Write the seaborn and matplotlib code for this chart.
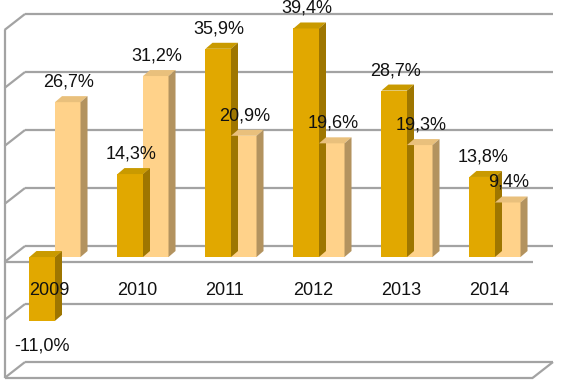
import matplotlib
matplotlib.use("Agg")
import matplotlib.pyplot as plt
import seaborn as sns
import pandas as pd
import numpy as np
from matplotlib.patches import Polygon
from matplotlib.lines import Line2D

# ---- data ----
years = ["2009", "2010", "2011", "2012", "2013", "2014"]
series_a = [-11.0, 14.3, 35.9, 39.4, 28.7, 13.8]
series_b = [26.7, 31.2, 20.9, 19.6, 19.3, 9.4]
series_names = ["A", "B"]
grid_levels = [-20, -10, 0, 10, 20, 30, 40]

front_cols = {"A": "#E1A800", "B": "#FFD28A"}
top_cols = {"A": "#C99A00", "B": "#E9C07C"}
side_cols = {"A": "#9E7600", "B": "#B3935F"}

df = pd.DataFrame({
    "year": years * 2,
    "value": series_a + series_b,
    "series": [series_names[0]] * len(years) + [series_names[1]] * len(years),
})

sns.set_theme(style="white")
plt.rcParams["font.family"] = ["Liberation Sans", "DejaVu Sans"]

fig = plt.figure(figsize=(5.61, 3.83), dpi=100)
ax = fig.add_axes([0, 0, 1, 1])

sns.barplot(data=df, x="year", y="value", hue="series", order=years,
            hue_order=series_names, palette=front_cols, width=0.58, gap=0,
            dodge=True, edgecolor="none", linewidth=0, saturation=1,
            legend=False, ax=ax, zorder=3)

ax.set_xlim(-0.625, 5.75)
ax.set_ylim(-21.72, 44.31)
ax.axis("off")

# pixel -> data conversion (image px, y down)
p0 = ax.transData.transform((0, 0))
px_x = ax.transData.transform((1, 0))[0] - p0[0]
px_y = ax.transData.transform((0, 1))[1] - p0[1]


def off(dx, dy):
    return dx / px_x, -dy / px_y


F = off(-6.5, 5)     # front plane
B = off(14, -11)     # back wall
D = off(7, -6)       # bar depth

gc = "#A3A3A3"
lw = 1.6


def line(p, q, z=1):
    ax.add_line(Line2D([p[0], q[0]], [p[1], q[1]], color=gc, lw=lw,
                       zorder=z, solid_capstyle="butt"))


xl, xr = -0.5, 5.5
for v in grid_levels:
    line((xl + B[0], v + B[1]), (xr + B[0], v + B[1]))
    line((xl + F[0], v + F[1]), (xl + B[0], v + B[1]))
line((xl + F[0], grid_levels[0] + F[1]), (xl + F[0], grid_levels[-1] + F[1]))
line((xl + F[0], grid_levels[0] + F[1]), (xr + F[0], grid_levels[0] + F[1]))
line((xr + F[0], grid_levels[0] + F[1]), (xr + B[0], grid_levels[0] + B[1]))
line((xl + F[0], 0 + F[1]), (xr + F[0], 0 + F[1]))

# 3D faces and labels
n = len(years)
for k, cont in enumerate(ax.containers):
    name = series_names[k]
    vals = series_a if k == 0 else series_b
    for bar, val in zip(cont.patches, vals):
        x0 = bar.get_x()
        x1 = x0 + bar.get_width()
        y0 = bar.get_y()
        y1 = y0 + bar.get_height()
        lo, hi = min(y0, y1), max(y0, y1)
        top = Polygon([(x0, hi), (x1, hi), (x1 + D[0], hi + D[1]),
                       (x0 + D[0], hi + D[1])], closed=True,
                      facecolor=top_cols[name], edgecolor="none", zorder=3)
        side = Polygon([(x1, lo), (x1, hi), (x1 + D[0], hi + D[1]),
                        (x1 + D[0], lo + D[1])], closed=True,
                       facecolor=side_cols[name], edgecolor="none", zorder=3)
        ax.add_patch(top)
        ax.add_patch(side)
        cx = (x0 + x1) / 2
        txt = f"{val:.1f}%".replace(".", ",")
        if val >= 0:
            ax.text(cx + off(1, 0)[0], hi + off(0, -20)[1], txt,
                    ha="center", va="center", fontsize=13, color="#111111",
                    zorder=6)
        else:
            ax.text(cx, lo + off(0, 25)[1], txt, ha="center", va="center",
                    fontsize=13, color="#111111", zorder=6)

for i, y in enumerate(years):
    ax.text(i + off(-6, 0)[0], off(0, 33)[1], y, ha="center", va="center",
            fontsize=13, color="#111111", zorder=6)

fig.savefig("out.png", dpi=100)
